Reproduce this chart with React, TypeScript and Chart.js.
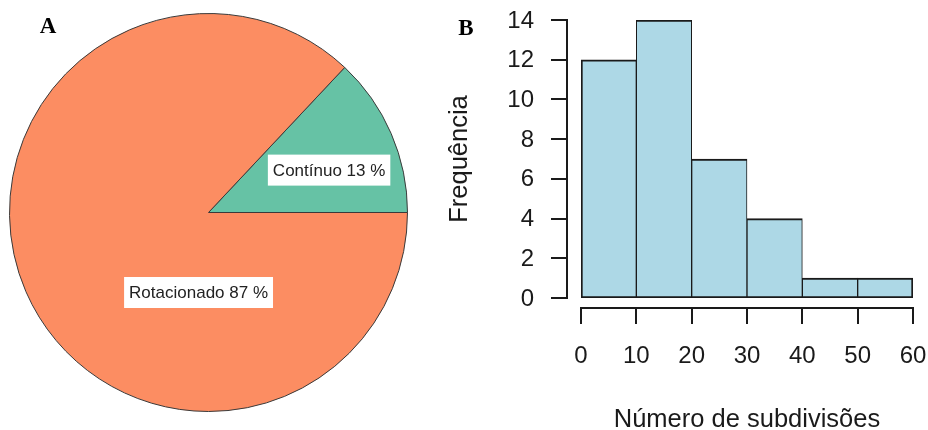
import React, { useEffect, useRef } from "react";
import { Chart, registerables } from "chart.js";

Chart.register(...registerables);

// ---- Data ----
const pieLabels = ["Contínuo", "Rotacionado"];
const piePercents = [13, 87];
const pieColors = ["#66C2A5", "#FC8D62"];

const binEdges = [0, 10, 20, 30, 40, 50, 60];
const binCounts = [12, 14, 7, 4, 1, 1];
const yTicks = [0, 2, 4, 6, 8, 10, 12, 14];
const xTicks = [0, 10, 20, 30, 40, 50, 60];
const xTitle = "Número de subdivisões";
const yTitle = "Frequência";
const panelA = "A";
const panelB = "B";

// ---- Styles ----
const SANS = '"Liberation Sans", Arial, sans-serif';
const SERIF = '"Liberation Serif", "Times New Roman", serif';
const INK = "#1a1a1a";
// label centre offsets, in units of the pie radius, from the pie centre
const PIE_LABEL_OFFSETS: [number, number][] = [
  [0.606, -0.213],
  [-0.05, 0.402],
];

const pieLabelPlugin = {
  id: "pieLabels",
  afterDatasetsDraw(chart: any) {
    const { ctx } = chart;
    const meta = chart.getDatasetMeta(0);
    ctx.save();
    ctx.font = `17px ${SANS}`;
    ctx.textAlign = "center";
    ctx.textBaseline = "middle";
    meta.data.forEach((arc: any, i: number) => {
      const r = arc.outerRadius;
      const cx = arc.x + PIE_LABEL_OFFSETS[i][0] * r;
      const cy = arc.y + PIE_LABEL_OFFSETS[i][1] * r;
      const text = `${pieLabels[i]} ${piePercents[i]} %`;
      const w = ctx.measureText(text).width + 10;
      const h = 31;
      ctx.fillStyle = "#ffffff";
      ctx.fillRect(cx - w / 2, cy - h / 2, w, h);
      ctx.fillStyle = "#222";
      ctx.fillText(text, cx, cy + 1);
    });
    ctx.font = `bold 23px ${SERIF}`;
    ctx.fillStyle = "#000";
    ctx.textAlign = "center";
    ctx.textBaseline = "alphabetic";
    ctx.fillText(panelA, 48, 33);
    ctx.restore();
  },
};

const rAxesPlugin = {
  id: "rAxes",
  afterDraw(chart: any) {
    const { ctx, chartArea, scales } = chart;
    const xs = scales.x;
    const ys = scales.y;
    ctx.save();
    ctx.strokeStyle = INK;
    ctx.fillStyle = INK;
    ctx.lineWidth = 2;

    // y axis (detached, R style)
    const axX = Math.round(chartArea.left - 14);
    const yTop = ys.getPixelForValue(yTicks[yTicks.length - 1]);
    const yBot = ys.getPixelForValue(yTicks[0]);
    ctx.beginPath();
    ctx.moveTo(axX, yBot);
    ctx.lineTo(axX, yTop);
    yTicks.forEach((t) => {
      const y = Math.round(ys.getPixelForValue(t));
      ctx.moveTo(axX + 1, y);
      ctx.lineTo(axX - 16, y);
    });
    ctx.stroke();
    ctx.font = `24px ${SANS}`;
    ctx.textAlign = "right";
    ctx.textBaseline = "middle";
    yTicks.forEach((t) => {
      ctx.fillText(String(t), axX - 33, ys.getPixelForValue(t) + 1);
    });

    // x axis
    const axY = Math.round(chartArea.bottom + 10);
    const xL = xs.getPixelForValue(xTicks[0]);
    const xR = xs.getPixelForValue(xTicks[xTicks.length - 1]);
    ctx.beginPath();
    ctx.moveTo(xL, axY);
    ctx.lineTo(xR, axY);
    xTicks.forEach((t) => {
      const x = Math.round(xs.getPixelForValue(t));
      ctx.moveTo(x, axY - 1);
      ctx.lineTo(x, axY + 16);
    });
    ctx.stroke();
    ctx.textAlign = "center";
    ctx.textBaseline = "middle";
    xTicks.forEach((t) => {
      ctx.fillText(String(t), xs.getPixelForValue(t), axY + 48);
    });

    // titles
    ctx.font = `25.5px ${SANS}`;
    ctx.textAlign = "center";
    ctx.textBaseline = "alphabetic";
    ctx.fillText(xTitle, (xL + xR) / 2, axY + 119);
    ctx.save();
    ctx.translate(chartArea.left - 114, (yTop + yBot) / 2);
    ctx.rotate(-Math.PI / 2);
    ctx.fillText(yTitle, 0, 0);
    ctx.restore();

    // panel label
    ctx.font = `bold 23px ${SERIF}`;
    ctx.fillStyle = "#000";
    ctx.fillText(panelB, 26, 35);
    ctx.restore();
  },
};

export default function App() {
  const pieRef = useRef<HTMLCanvasElement>(null);
  const histRef = useRef<HTMLCanvasElement>(null);

  useEffect(() => {
    const pie = new Chart(pieRef.current as HTMLCanvasElement, {
      type: "pie",
      data: {
        labels: pieLabels,
        datasets: [
          {
            data: piePercents,
            backgroundColor: pieColors,
            borderColor: "#3a3a3a",
            borderWidth: 1,
          },
        ],
      },
      options: {
        responsive: false,
        animation: false,
        rotation: 90 - piePercents[0] * 3.6,
        layout: { padding: { left: 9, top: 13, right: 12, bottom: 18 } },
        plugins: { legend: { display: false }, tooltip: { enabled: false } },
      },
      plugins: [pieLabelPlugin],
    } as any);

    const last = binCounts.length - 1;
    const hist = new Chart(histRef.current as HTMLCanvasElement, {
      type: "bar",
      data: {
        datasets: [
          {
            data: binCounts.map((c, i) => ({ x: (binEdges[i] + binEdges[i + 1]) / 2, y: c })),
            backgroundColor: "#ADD8E6",
            borderColor: INK,
            borderWidth: (c: any) => ({
              top: 2,
              bottom: 2,
              left: c.dataIndex === 0 ? 2 : 1,
              right: c.dataIndex === last ? 2 : 1,
            }),
            borderSkipped: false,
            barPercentage: 1,
            categoryPercentage: 1,
          },
        ],
      },
      options: {
        responsive: false,
        animation: false,
        layout: { padding: { left: 141, right: 15, top: 20, bottom: 132 } },
        scales: {
          x: { type: "linear", min: binEdges[0], max: binEdges[binEdges.length - 1], offset: false, display: false },
          y: { min: yTicks[0], max: yTicks[yTicks.length - 1], display: false },
        },
        plugins: { legend: { display: false }, tooltip: { enabled: false } },
      },
      plugins: [rAxesPlugin],
    } as any);

    return () => {
      pie.destroy();
      hist.destroy();
    };
  }, []);

  return (
    <div style={{ position: "fixed", left: 0, top: 0, width: 928, height: 430, background: "#fff" }}>
      <canvas ref={pieRef} width={420} height={430} style={{ position: "absolute", left: 0, top: 0, width: 420, height: 430 }} />
      <canvas ref={histRef} width={488} height={430} style={{ position: "absolute", left: 440, top: 0, width: 488, height: 430 }} />
    </div>
  );
}
